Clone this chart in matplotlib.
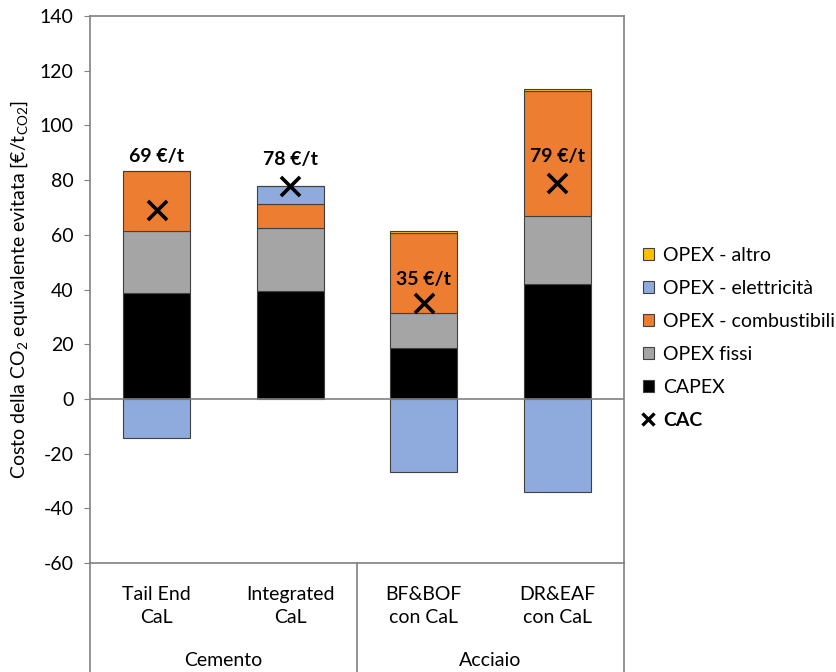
import matplotlib
matplotlib.use("Agg")
import matplotlib.pyplot as plt
import numpy as np
from matplotlib.lines import Line2D
from matplotlib.patches import Patch

plt.rcParams['font.family'] = ['Lato', 'DejaVu Sans']
plt.rcParams['axes.unicode_minus'] = False
plt.rcParams['mathtext.fontset'] = 'custom'
plt.rcParams['mathtext.rm'] = 'Lato'
plt.rcParams['mathtext.it'] = 'Lato:italic'

# Data
impianti = ["Tail End\nCaL", "Integrated\nCaL", "BF&BOF\ncon CaL", "DR&EAF\ncon CaL"]
settori = ["Cemento", "Acciaio"]
capex = [38.8, 39.3, 18.7, 42.1]
opex_fissi = [22.7, 23.3, 12.8, 24.9]
opex_combustibili = [21.7, 8.8, 29.3, 45.5]
opex_elettricita = [-14.3, 6.6, -26.7, -34.1]
opex_altro = [0.0, 0.0, 0.5, 0.7]
cac = [69, 78, 35, 79]
cac_label_offset = [19.6, 9.5, 8.8, 9.6]

series = [
    ("CAPEX", capex, "#000000"),
    ("OPEX fissi", opex_fissi, "#A5A5A5"),
    ("OPEX - combustibili", opex_combustibili, "#ED7D31"),
    ("OPEX - elettricità", opex_elettricita, "#8FAADC"),
    ("OPEX - altro", opex_altro, "#FFC000"),
]

FS = 14

fig = plt.figure(figsize=(8.37, 6.72), dpi=100)
ax = fig.add_axes([90 / 837, 1 - 563 / 672, (624 - 90) / 837, (563 - 16) / 672])

x = np.arange(len(impianti))
width = 0.5
pos_bottom = np.zeros(len(x))
neg_bottom = np.zeros(len(x))
for name, vals, col in series:
    vals = np.array(vals, dtype=float)
    bottoms = np.where(vals >= 0, pos_bottom, neg_bottom)
    ax.bar(x, vals, width, bottom=bottoms, color=col, edgecolor="#404040",
           linewidth=0.8, zorder=2)
    pos_bottom += np.where(vals >= 0, vals, 0)
    neg_bottom += np.where(vals < 0, vals, 0)

ax.scatter(x, cac, marker="x", s=190, color="black", linewidths=2.6, zorder=4)
for xi, v, off in zip(x, cac, cac_label_offset):
    ax.text(xi, v + off, f"{v} €/t", ha="center", va="center",
            fontsize=FS, fontweight="bold", zorder=5)

ax.axhline(0, color="#808080", linewidth=1.2, zorder=3)
ax.set_xlim(-0.5, len(x) - 0.5)
ax.set_ylim(-60, 140)
ax.set_yticks(np.arange(-60, 141, 20))
ax.tick_params(axis="y", labelsize=FS, length=4, color="#808080", pad=8)
ax.set_xticks([])
for s in ax.spines.values():
    s.set_color("#808080")
    s.set_linewidth(1.2)

ax.set_ylabel("Costo della CO$_2$ equivalente evitata [€/t$_{\\mathrm{CO2}}$]",
              fontsize=FS)
ax.yaxis.set_label_coords((30 - 90) / 534, 0.5)

# Two-level category axis below the plot
trans = ax.get_xaxis_transform()
for xi, lab in zip(x, impianti):
    ax.text(xi, -(606 - 563) / 547, lab, transform=trans, ha="center",
            va="center", fontsize=FS, linespacing=1.45)
for i, lab in enumerate(settori):
    ax.text(2 * i + 0.5, -(660 - 563) / 547, lab, transform=trans,
            ha="center", va="center", fontsize=FS)
for xv in [-0.5, 1.5, 3.5]:
    ax.plot([xv, xv], [0, -0.2], transform=trans, color="#808080",
            linewidth=1.2, clip_on=False)

handles = [Patch(facecolor=col, edgecolor="#404040", linewidth=0.8, label=name)
           for name, _, col in reversed(series)]
handles.append(Line2D([], [], marker="x", color="black", linestyle="none",
                      markersize=9, markeredgewidth=2.4, label="CAC"))
leg = fig.legend(handles=handles, loc="center left",
                 bbox_to_anchor=(643 / 837, 1 - 338 / 672), frameon=False,
                 borderpad=0, borderaxespad=0,
                 fontsize=FS, handlelength=0.55, handleheight=0.55,
                 handletextpad=0.5, labelspacing=0.82)
for t in leg.get_texts():
    if t.get_text() == "CAC":
        t.set_fontweight("bold")

fig.savefig("out.png", dpi=100)
